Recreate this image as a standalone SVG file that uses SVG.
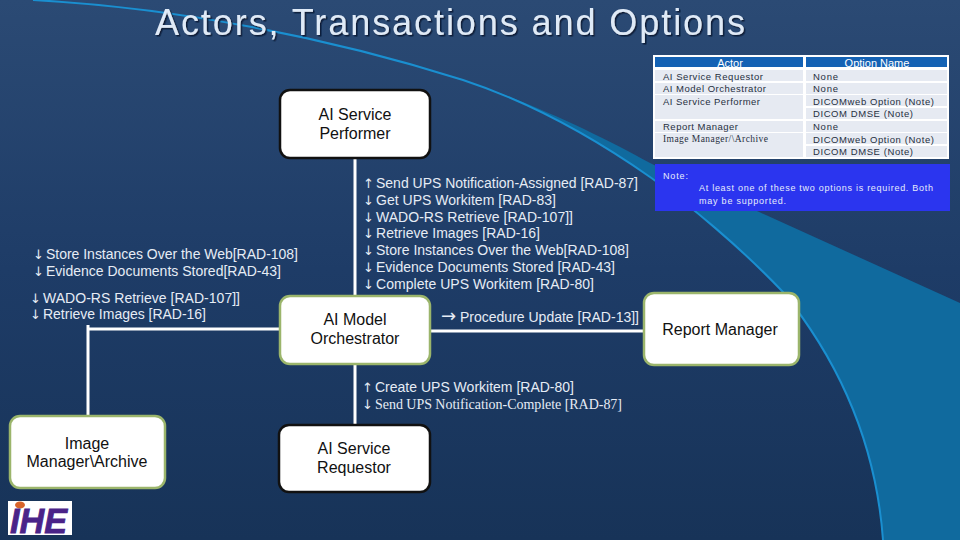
<svg xmlns="http://www.w3.org/2000/svg" width="960" height="540" viewBox="0 0 960 540">
<defs>
<linearGradient id="bg" x1="0" y1="0" x2="0" y2="1"><stop offset="0" stop-color="#2b4a74"/><stop offset="0.5" stop-color="#1e3c67"/><stop offset="1" stop-color="#173358"/></linearGradient>
<filter id="sh" x="-5%" y="-20%" width="110%" height="140%"><feDropShadow dx="1.5" dy="1.5" stdDeviation="0.4" flood-color="#0c1c38"/></filter>
</defs>
<style>
text{font-family:"Liberation Sans",Arial,sans-serif}
.node{fill:#fff;stroke-width:2.5}
.blk{stroke:#111}
.grn{stroke:#9bb56b}
.nt{font-size:16px;fill:#111;text-anchor:middle}
.lb{font-size:14px;fill:#e6ecf5}
.ar{font-size:13px;fill:#e6ecf5;font-family:"DejaVu Sans",sans-serif}
.sf{font-family:"Liberation Serif",serif}
.conn{stroke:#fff;stroke-width:3;fill:none}
.tb{font-size:9.5px;fill:#26303f}
.hd{font-size:11px;fill:#fff;text-anchor:middle}
.row{fill:#e6eaf2}
.nb{font-size:9px;fill:#e6ecfb}
</style>
<rect width="960" height="540" fill="url(#bg)"/>
<path id="swoosh" d="M463 80C530 102 590 135 650 177C690 205 740 247 783 292C830 350 875 430 883 540H960V303L757 211C720 194 690 183 650 163C600 135 530 102 463 80Z" fill="#106a9e"/>
<path d="M33 0C180 8 330 38 463 80C530 102 590 135 650 177C690 205 740 247 783 292C830 350 875 430 883 540" fill="none" stroke="#1a8fd0" stroke-width="2"/>
<text x="155" y="35" font-size="36" fill="#dfeaf7" textLength="590" filter="url(#sh)">Actors, Transactions and Options</text>
<g id="connectors" class="conn">
<path d="M355 157V296M355 364V425M430 331H644M280 329H88M88 325V416"/>
</g>
<g id="labels">
<text class="ar" x="33" y="259">↓</text><text class="lb" x="46" y="259" textLength="252">Store Instances Over the Web[RAD-108]</text>
<text class="ar" x="33" y="276">↓</text><text class="lb" x="46" y="276" textLength="235">Evidence Documents Stored[RAD-43]</text>
<text class="ar" x="30" y="303">↓</text><text class="lb" x="43" y="303" textLength="197">WADO-RS Retrieve [RAD-107]]</text>
<text class="ar" x="30" y="319">↓</text><text class="lb" x="43" y="319" textLength="163">Retrieve Images [RAD-16]</text>
<text class="ar" x="363" y="188">↑</text><text class="lb" x="376" y="188" textLength="262">Send UPS Notification-Assigned [RAD-87]</text>
<text class="ar" x="363" y="205">↓</text><text class="lb" x="376" y="205" textLength="180">Get UPS Workitem [RAD-83]</text>
<text class="ar" x="363" y="222">↓</text><text class="lb" x="376" y="222" textLength="197">WADO-RS Retrieve [RAD-107]]</text>
<text class="ar" x="363" y="238">↓</text><text class="lb" x="376" y="238" textLength="164">Retrieve Images [RAD-16]</text>
<text class="ar" x="363" y="255">↓</text><text class="lb" x="376" y="255" textLength="253">Store Instances Over the Web[RAD-108]</text>
<text class="ar" x="363" y="272">↓</text><text class="lb" x="376" y="272" textLength="239">Evidence Documents Stored [RAD-43]</text>
<text class="ar" x="363" y="289">↓</text><text class="lb" x="376" y="289" textLength="218">Complete UPS Workitem [RAD-80]</text>
<text class="ar" x="441" y="322" style="font-size:18px">→</text><text class="lb" x="460" y="322" textLength="179">Procedure Update [RAD-13]]</text>
<text class="ar" x="362" y="392">↑</text><text class="lb" x="375" y="392" textLength="199">Create UPS Workitem [RAD-80]</text>
<text class="ar" x="362" y="409">↓</text><text class="lb sf" x="375" y="409" textLength="247">Send UPS Notification-Complete [RAD-87]</text>
</g>
<g id="performer"><rect class="node blk" x="280" y="90" width="150" height="68" rx="10"/><text class="nt" x="355" y="120">AI Service</text><text class="nt" x="355" y="139">Performer</text></g>
<g id="orchestrator"><rect class="node grn" x="280" y="296" width="150" height="68" rx="10"/><text class="nt" x="355" y="325">AI Model</text><text class="nt" x="355" y="344">Orchestrator</text></g>
<g id="report"><rect class="node grn" x="644" y="293" width="155" height="72" rx="10"/><text class="nt" x="720" y="335">Report Manager</text></g>
<g id="requestor"><rect class="node blk" x="279" y="425" width="151" height="67" rx="10"/><text class="nt" x="354" y="454">AI Service</text><text class="nt" x="354" y="473">Requestor</text></g>
<g id="archive"><rect class="node grn" x="10" y="416" width="155" height="72" rx="10"/><text class="nt" x="87" y="449">Image</text><text class="nt" x="87" y="467">Manager\Archive</text></g>
<g id="table">
<rect x="653" y="55" width="296" height="104" fill="#fff"/>
<rect x="655" y="57" width="148" height="10" fill="#1462b4"/><rect x="806" y="57" width="141" height="10" fill="#1462b4"/>
<rect class="row" x="655" y="70" width="148" height="11"/><rect class="row" x="806" y="70" width="141" height="11"/>
<rect class="row" x="655" y="83" width="148" height="11"/><rect class="row" x="806" y="83" width="141" height="11"/>
<rect class="row" x="655" y="95" width="148" height="24"/><rect class="row" x="806" y="95" width="141" height="11"/><rect class="row" x="806" y="108" width="141" height="11"/>
<rect class="row" x="655" y="121" width="148" height="11"/><rect class="row" x="806" y="121" width="141" height="11"/>
<rect class="row" x="655" y="133" width="148" height="24"/><rect class="row" x="806" y="133" width="141" height="11"/><rect class="row" x="806" y="146" width="141" height="11"/>
<text class="hd" x="730" y="67">Actor</text><text class="hd" x="877" y="67">Option Name</text>
<text class="tb" x="663" y="80" textLength="100">AI Service Requestor</text>
<text class="tb" x="663" y="92" textLength="103">AI Model Orchestrator</text>
<text class="tb" x="663" y="105" textLength="97">AI Service Performer</text>
<text class="tb" x="663" y="130" textLength="75">Report Manager</text>
<text class="tb sf" x="663" y="142" textLength="105">Image Manager/\Archive</text>
<text class="tb" x="813" y="80" textLength="25">None</text>
<text class="tb" x="813" y="92" textLength="25">None</text>
<text class="tb" x="813" y="105" textLength="121">DICOMweb Option (Note)</text>
<text class="tb" x="813" y="117" textLength="100">DICOM DMSE (Note)</text>
<text class="tb" x="813" y="130" textLength="25">None</text>
<text class="tb" x="813" y="143" textLength="121">DICOMweb Option (Note)</text>
<text class="tb" x="813" y="155" textLength="100">DICOM DMSE (Note)</text>
</g>
<g id="note"><rect x="655" y="164" width="295" height="47" fill="#2b35ef"/>
<text class="nb" x="663" y="179" textLength="25">Note:</text>
<text class="nb" x="699" y="191" textLength="234">At least one of these two options is required.  Both</text>
<text class="nb" x="699" y="204" textLength="87">may be supported.</text></g>
<g id="logo"><rect x="8" y="501" width="64" height="34" fill="#fff"/><ellipse cx="20" cy="505" rx="5" ry="3.5" fill="#d8642a"/>
<text x="10" y="533" font-size="35" font-weight="bold" font-style="italic" fill="#4a2388" stroke="#4a2388" stroke-width="0.8" textLength="57" lengthAdjust="spacingAndGlyphs">IHE</text></g>
</svg>
